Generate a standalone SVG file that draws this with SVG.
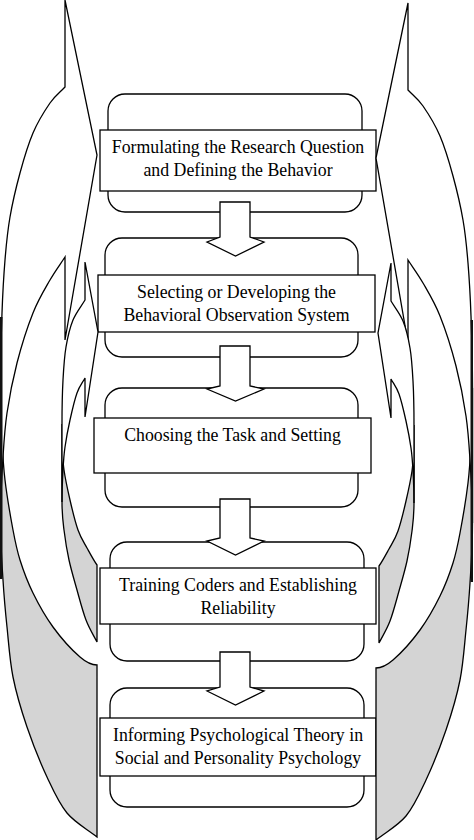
<svg xmlns="http://www.w3.org/2000/svg" width="474" height="840" viewBox="0 0 474 840">
<style>
.ln{stroke:#000;stroke-width:1.3;stroke-linejoin:miter}
.wh{fill:#fff}
.gr{fill:#d4d4d4}
.t{font-family:"Liberation Serif","Times New Roman",serif;font-size:17.8px;fill:#000;text-anchor:middle}
</style>
<defs>
<g id="curveOuter">
<path class="ln gr" d="M0.5,385 C0.5,410 1.25,424.2 2,440 C2.75,455.8 3.2,465 5,480 C6.8,495 10.5,516.7 13,530 C15.5,543.3 16.7,549.5 20,560 C23.3,570.5 27.5,581.8 33,593 C38.5,604.2 45.2,616.3 53,627 C60.8,637.7 72.7,650.7 80,657 C87.3,663.3 92,665 97,665 L97,837 C87,829 75.3,823 67,813 C58.7,803 53.7,791.3 47,777 C40.3,762.7 32.7,743.7 27,727 C21.3,710.3 16.3,693.7 13,677 C9.7,660.3 8.7,643.2 7,627 C5.3,610.8 4.1,597.8 3,580 C1.9,562.2 0.5,545 0.5,520 Z"/>
<path class="ln wh" d="M65,87 C60,92.3 55.3,95.3 50,103 C44.7,110.7 38,121.3 33,133 C28,144.7 23.8,159 20,173 C16.2,187 12.5,202.5 10,217 C7.5,231.5 6.3,244 5,260 C3.7,276 2.75,292.2 2,313 C1.25,333.8 0.5,360 0.5,385 L0.5,520 C0.5,495 1.9,474.8 3,457 C4.1,439.2 4.7,428.7 7,413 C9.3,397.3 12.7,379.7 17,363 C21.3,346.3 27.5,326.8 33,313 C38.5,299.2 44.7,289.3 50,280 C55.3,270.7 60,264.7 65,257 L65,340 L97,155 L65,0 Z"/>
<rect x="0" y="317" width="2.5" height="262" fill="#111"/>
</g>
<g id="curveInner">
<path class="ln gr" d="M62,424 C62,436 62.2,440.3 62.5,448 C62.8,455.7 62.75,461.3 64,470 C65.25,478.7 67.7,490 70,500 C72.3,510 75.2,522 78,530 C80.8,538 83.8,542.2 87,548 C90.2,553.8 94,561 97,565 L97,642 C93.3,634.7 89.3,628.7 86,620 C82.7,611.3 79.8,600 77,590 C74.2,580 71.2,570 69,560 C66.8,550 65.2,539.7 64,530 C62.8,520.3 62,515 62,502 Z"/>
<path class="ln wh" d="M85,300 C81,306.7 76.2,312.2 73,320 C69.8,327.8 67.7,337 66,347 C64.3,357 63.7,367.2 63,380 C62.3,392.8 62,410 62,424 L62,502 C62,490 62.5,479.2 63,470 C63.5,460.8 63.8,455.3 65,447 C66.2,438.7 68,429 70,420 C72,411 74.5,400 77,393 C79.5,386 82.3,383 85,378 L85,417 L98,332 L85,262 Z"/>
</g>
</defs>
<g id="node-1">
<rect class="ln wh" x="108" y="94" width="254" height="118" rx="17"/>
<rect class="ln wh" x="100" y="130" width="276" height="61"/>
<text class="t" x="238" y="153">Formulating the Research Question</text>
<text class="t" x="238" y="176">and Defining the Behavior</text>
</g>
<g id="node-2">
<rect class="ln wh" x="105" y="238" width="253" height="119" rx="17"/>
<rect class="ln wh" x="98" y="275" width="277" height="57"/>
<text class="t" x="236.5" y="298">Selecting or Developing the</text>
<text class="t" x="236.5" y="320.5">Behavioral Observation System</text>
</g>
<g id="node-3">
<rect class="ln wh" x="105" y="388" width="253" height="119" rx="17"/>
<rect class="ln wh" x="94" y="418" width="277" height="55"/>
<text class="t" x="232.5" y="441">Choosing the Task and Setting</text>
</g>
<g id="node-4">
<rect class="ln wh" x="110" y="542" width="254" height="119" rx="17"/>
<rect class="ln wh" x="100" y="568" width="276" height="56"/>
<text class="t" x="238" y="591">Training Coders and Establishing</text>
<text class="t" x="238" y="614">Reliability</text>
</g>
<g id="node-5">
<rect class="ln wh" x="110" y="688" width="254" height="119" rx="17"/>
<rect class="ln wh" x="100" y="718" width="276" height="58"/>
<text class="t" x="238" y="741">Informing Psychological Theory in</text>
<text class="t" x="238" y="764">Social and Personality Psychology</text>
</g>
<g id="connectors">
<polygon class="ln wh" points="220,202 250,202 250,237 264,242 235.5,256 207,242 220,237"/>
<polygon class="ln wh" points="220,346 250,346 250,386 264,389 235.5,401 207,389 220,386"/>
<polygon class="ln wh" points="220,499 250,499 250,538 264,541 235.5,555 207,541 220,538"/>
<polygon class="ln wh" points="220,652 250,652 250,687 264,691 235.5,705 207,691 220,687"/>
<use href="#curveOuter"/>
<use href="#curveInner"/>
<use href="#curveOuter" transform="translate(473,3) scale(-1,1)"/>
<use href="#curveInner" transform="translate(476,1) scale(-1,1)"/>
</g>
</svg>
